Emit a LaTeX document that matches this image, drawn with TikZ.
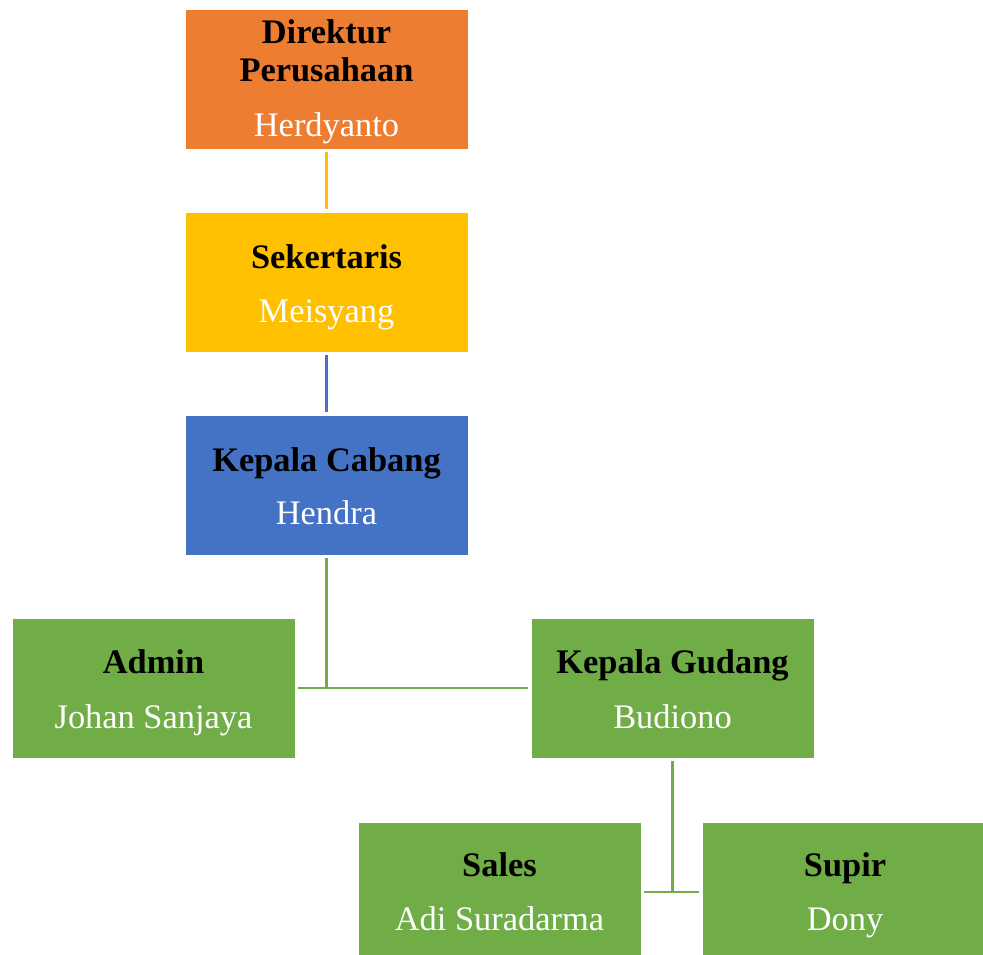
\documentclass[tikz,border=0pt]{standalone}
\usepackage{fontspec}
\setmainfont{Liberation Serif}
\definecolor{corange}{HTML}{ED7D31}
\definecolor{cyellow}{HTML}{FFC000}
\definecolor{cblue}{HTML}{4472C4}
\definecolor{cgreen}{HTML}{70AD47}
\begin{document}
\begin{tikzpicture}[x=1pt,y=-1pt,
  box/.style={draw=white, line width=0.6pt, minimum width=283pt, minimum height=140pt, inner sep=0pt},
  ttl/.style={anchor=base, inner sep=0pt, font=\fontsize{34.4}{40}\selectfont\bfseries, text=black},
  nm/.style={anchor=base, inner sep=0pt, font=\fontsize{34.4}{40}\selectfont, text=white},
  conn/.style={line width=2.8pt}]
\useasboundingbox (0,0) rectangle (983,955);
% boxes
\node[box, fill=corange] (dir) at (326.5,79) {};
\node[box, fill=cyellow] (sek) at (326.5,282) {};
\node[box, fill=cblue] (cab) at (326.5,485) {};
\node[box, fill=cgreen] (adm) at (153.5,688) {};
\node[box, fill=cgreen] (gud) at (672.5,688) {};
\node[box, fill=cgreen] (sal) at (499.5,892) {};
\node[box, fill=cgreen] (sup) at (843.5,892) {};
% texts
\node[ttl] (dirt1) at (326.5,44) {Direktur};
\node[ttl] (dirt2) at (326.5,82) {Perusahaan};
\node[nm] (dirn) at (326.5,137) {Herdyanto};
\node[ttl] (sekt) at (326.5,268) {Sekertaris};
\node[nm] (sekn) at (326.5,322) {Meisyang};
\node[ttl] (cabt) at (326.5,471) {Kepala Cabang};
\node[nm] (cabn) at (326.5,524) {Hendra};
\node[ttl] (admt) at (153.5,673) {Admin};
\node[nm] (admn) at (153.5,728) {Johan Sanjaya};
\node[ttl] (gudt) at (672.5,673) {Kepala Gudang};
\node[nm] (gudn) at (672.5,728) {Budiono};
\node[ttl] (salt) at (499.5,876) {Sales};
\node[nm] (saln) at (499.5,930) {Adi Suradarma};
\node[ttl] (supt) at (845,876) {Supir};
\node[nm] (supn) at (845,930) {Dony};
% connectors
\draw[conn, cyellow] ([yshift=-3pt]dir.south) -- ([yshift=3pt]sek.north);
\draw[conn, cblue] ([yshift=-3pt]sek.south) -- ([yshift=3pt]cab.north);
\coordinate (j1) at (cab.south |- adm.east);
\draw[conn, cgreen] ([yshift=-3pt]cab.south) -- (j1);
\draw[conn, cgreen] ([xshift=3pt]adm.east) -- ([xshift=-3pt]gud.west);
\coordinate (j2) at (gud.south |- sal.east);
\draw[conn, cgreen] ([yshift=-3pt]gud.south) -- (j2);
\draw[conn, cgreen] ([xshift=3pt]sal.east) -- ([xshift=-3pt]sup.west);
\end{tikzpicture}
\end{document}
